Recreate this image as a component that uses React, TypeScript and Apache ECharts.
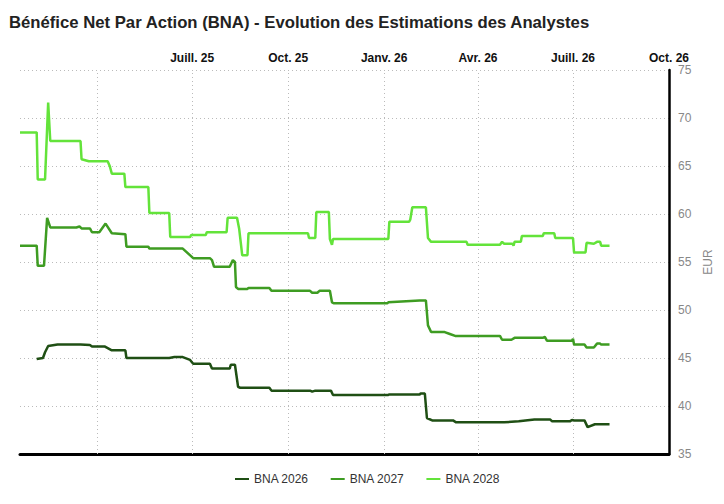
import React, { useEffect, useRef } from "react";
import * as echarts from "echarts";

const title = "Bénéfice Net Par Action (BNA) - Evolution des Estimations des Analystes";
const seriesNames = ["BNA 2026", "BNA 2027", "BNA 2028"];
const seriesColors = ["#1f4f14", "#3e9c22", "#63e33a"];

const xMin = "2025-01-17";
const xMax = "2026-10-01";
const gridDates = ["2025-04-01", "2025-07-01", "2025-10-01", "2026-01-01", "2026-04-01", "2026-07-01"];
const labelDates = ["2025-07-01", "2025-10-01", "2026-01-01", "2026-04-01", "2026-07-01", "2026-10-01"];
const monthNames = ["Janv.", "Févr.", "Mars", "Avr.", "Mai", "Juin", "Juill.", "Août", "Sept.", "Oct.", "Nov.", "Déc."];

const yMin = 35;
const yMax = 75;
const yStep = 5;

const bna2026: [string, number][] = [
  ["2025-02-02", 44.9], ["2025-02-08", 45.0], ["2025-02-10", 45.6], ["2025-02-13", 46.25],
  ["2025-02-22", 46.4], ["2025-03-16", 46.4], ["2025-03-25", 46.35], ["2025-03-27", 46.2],
  ["2025-04-08", 46.2], ["2025-04-15", 45.8], ["2025-04-28", 45.8], ["2025-04-29", 45.0],
  ["2025-06-09", 45.0], ["2025-06-14", 45.1], ["2025-06-22", 45.1], ["2025-06-29", 44.8],
  ["2025-07-02", 44.4], ["2025-07-18", 44.4], ["2025-07-20", 43.9], ["2025-08-06", 43.9],
  ["2025-08-07", 44.3], ["2025-08-11", 44.3], ["2025-08-14", 42.0], ["2025-08-16", 41.9],
  ["2025-09-13", 41.9], ["2025-09-15", 41.6], ["2025-10-22", 41.6], ["2025-10-24", 41.5],
  ["2025-10-27", 41.6], ["2025-11-11", 41.6], ["2025-11-13", 41.15], ["2026-01-05", 41.15],
  ["2026-01-06", 41.2], ["2026-02-04", 41.2], ["2026-02-05", 41.3], ["2026-02-09", 41.3],
  ["2026-02-11", 38.75], ["2026-02-16", 38.5], ["2026-03-08", 38.5], ["2026-03-11", 38.3],
  ["2026-04-26", 38.3], ["2026-05-10", 38.4], ["2026-05-25", 38.6], ["2026-06-09", 38.6],
  ["2026-06-11", 38.4], ["2026-06-28", 38.4], ["2026-06-30", 38.55], ["2026-07-02", 38.5],
  ["2026-07-12", 38.5], ["2026-07-15", 37.8], ["2026-07-22", 38.1], ["2026-08-05", 38.1],
];

const bna2027: [string, number][] = [
  ["2025-01-17", 56.7], ["2025-02-02", 56.7], ["2025-02-03", 54.6], ["2025-02-09", 54.6],
  ["2025-02-12", 59.6], ["2025-02-15", 58.6], ["2025-03-12", 58.6], ["2025-03-15", 58.7],
  ["2025-03-17", 58.5], ["2025-03-25", 58.5], ["2025-03-27", 58.1], ["2025-04-03", 58.1],
  ["2025-04-09", 59.0], ["2025-04-15", 58.0], ["2025-04-28", 57.9], ["2025-04-29", 56.6],
  ["2025-05-20", 56.6], ["2025-05-21", 56.4], ["2025-06-22", 56.4], ["2025-07-02", 55.4],
  ["2025-07-18", 55.4], ["2025-07-20", 55.2], ["2025-07-22", 54.5], ["2025-08-06", 54.5],
  ["2025-08-09", 55.2], ["2025-08-11", 55.0], ["2025-08-12", 52.4], ["2025-08-14", 52.2],
  ["2025-08-23", 52.2], ["2025-08-24", 52.3], ["2025-09-13", 52.3], ["2025-09-15", 52.0],
  ["2025-10-22", 52.0], ["2025-10-24", 51.8], ["2025-10-29", 51.8], ["2025-10-31", 52.0],
  ["2025-11-10", 52.0], ["2025-11-12", 50.8], ["2025-11-14", 50.7], ["2026-01-04", 50.7],
  ["2026-01-05", 50.8], ["2026-02-04", 51.0], ["2026-02-10", 51.0], ["2026-02-12", 48.4],
  ["2026-02-15", 47.7], ["2026-02-28", 47.7], ["2026-03-05", 47.5], ["2026-03-10", 47.3],
  ["2026-04-22", 47.3], ["2026-04-24", 46.9], ["2026-05-03", 46.9], ["2026-05-06", 47.1],
  ["2026-06-02", 47.1], ["2026-06-04", 47.2], ["2026-06-06", 46.8], ["2026-06-30", 46.8],
  ["2026-07-01", 47.0], ["2026-07-02", 46.4], ["2026-07-12", 46.4], ["2026-07-14", 46.1],
  ["2026-07-21", 46.1], ["2026-07-24", 46.5], ["2026-07-27", 46.5], ["2026-07-28", 46.4],
  ["2026-08-05", 46.4],
];

const bna2028: [string, number][] = [
  ["2025-01-17", 68.5], ["2025-02-02", 68.5], ["2025-02-03", 63.6], ["2025-02-10", 63.6],
  ["2025-02-13", 71.6], ["2025-02-15", 67.6], ["2025-03-16", 67.6], ["2025-03-17", 65.7],
  ["2025-03-24", 65.5], ["2025-04-11", 65.5], ["2025-04-13", 65.0], ["2025-04-15", 64.2],
  ["2025-04-27", 64.2], ["2025-04-28", 62.8], ["2025-05-20", 62.8], ["2025-05-21", 60.1],
  ["2025-06-09", 60.1], ["2025-06-10", 57.6], ["2025-06-29", 57.6], ["2025-06-30", 57.8],
  ["2025-07-14", 57.8], ["2025-07-15", 58.1], ["2025-08-03", 58.1], ["2025-08-04", 59.6],
  ["2025-08-13", 59.6], ["2025-08-15", 58.5], ["2025-08-18", 55.7], ["2025-08-23", 55.7],
  ["2025-08-24", 58.0], ["2025-10-20", 58.0], ["2025-10-21", 57.5], ["2025-10-27", 57.5],
  ["2025-10-28", 60.2], ["2025-11-09", 60.2], ["2025-11-10", 57.4], ["2025-11-12", 56.8],
  ["2025-11-13", 57.4], ["2026-01-05", 57.4], ["2026-01-06", 59.2], ["2026-01-25", 59.2],
  ["2026-01-26", 59.4], ["2026-01-28", 60.7], ["2026-02-10", 60.7], ["2026-02-12", 57.5],
  ["2026-02-15", 57.1], ["2026-03-21", 57.1], ["2026-03-22", 56.8], ["2026-04-22", 56.8],
  ["2026-04-24", 57.1], ["2026-04-26", 56.9], ["2026-05-04", 56.9], ["2026-05-05", 56.7],
  ["2026-05-06", 57.1], ["2026-05-12", 57.1], ["2026-05-13", 57.7], ["2026-06-02", 57.7],
  ["2026-06-03", 58.0], ["2026-06-13", 58.0], ["2026-06-14", 57.5], ["2026-07-01", 57.5],
  ["2026-07-02", 56.0], ["2026-07-13", 56.0], ["2026-07-14", 57.0], ["2026-07-21", 56.9],
  ["2026-07-24", 57.1], ["2026-07-27", 57.1], ["2026-07-28", 56.7], ["2026-08-05", 56.7],
];

const seriesData = [bna2026, bna2027, bna2028];

const FONT = "'Liberation Sans', Arial, Helvetica, sans-serif";

export default function App() {
  const ref = useRef<HTMLDivElement>(null);

  useEffect(() => {
    document.body.style.margin = "0";
    if (!ref.current) return;
    const chart = echarts.init(ref.current, null, { renderer: "svg" });
    const ts = (d: string) => new Date(d + "T00:00:00Z").getTime();

    chart.setOption({
      animation: false,
      backgroundColor: "#ffffff",
      textStyle: { fontFamily: FONT },
      title: {
        text: title,
        left: 4,
        top: 9,
        textStyle: { fontFamily: FONT, fontSize: 16.7, fontWeight: "bold", color: "#222222" },
      },
      legend: {
        bottom: 14,
        left: 230,
        icon: "rect",
        itemWidth: 14,
        itemHeight: 2,
        itemGap: 22,
        textStyle: { fontFamily: FONT, fontSize: 12, color: "#333333" },
        data: seriesNames,
      },
      grid: { left: 20, right: 55, top: 70, bottom: 50 },
      xAxis: [
        {
          type: "value",
          position: "top",
          min: ts(xMin),
          max: ts(xMax),
          axisLine: { show: false },
          axisTick: { show: false },
          splitLine: { show: false },
          axisLabel: {
            customValues: labelDates.map(ts),
            margin: 7,
            lineHeight: 11,
            fontFamily: FONT,
            fontSize: 12,
            fontWeight: "bold",
            color: "#111111",
            formatter: (v: number) => {
              const d = new Date(v);
              return monthNames[d.getUTCMonth()] + " " + String(d.getUTCFullYear()).slice(2);
            },
          },
        },
        {
          type: "value",
          position: "bottom",
          min: ts(xMin),
          max: ts(xMax),
          axisLine: { show: true, onZero: false, lineStyle: { color: "#000000", width: 3 } },
          axisTick: { show: false },
          axisLabel: { show: false },
          splitLine: { show: false },
        },
      ],
      yAxis: {
        type: "value",
        position: "right",
        min: yMin,
        max: yMax,
        interval: yStep,
        name: "EUR",
        nameLocation: "middle",
        nameRotate: 90,
        nameGap: 32,
        nameTextStyle: { fontFamily: FONT, fontSize: 12, color: "#888888" },
        axisLine: { show: true, lineStyle: { color: "#000000", width: 2.5 } },
        axisTick: { show: false },
        axisLabel: { margin: 9, lineHeight: 11, fontFamily: FONT, fontSize: 12, color: "#888888" },
        splitLine: { show: true, lineStyle: { color: "#bbbbbb", type: [1, 3], width: 1 } },
      },
      series: seriesNames.map((name, i) => ({
        name,
        type: "line",
        xAxisIndex: 0,
        data: seriesData[i].map(([d, v]) => [ts(d), v]),
        showSymbol: false,
        symbol: "none",
        color: seriesColors[i],
        lineStyle: { color: seriesColors[i], width: 2.5 },
        z: 3 + i,
        ...(i === 0
          ? {
              markLine: {
                silent: true,
                symbol: "none",
                label: { show: false },
                lineStyle: { color: "#bbbbbb", type: [1, 3], width: 1 },
                data: gridDates.map((d) => ({ xAxis: ts(d) })),
                z: 1,
              },
            }
          : {}),
      })),
    });

    return () => chart.dispose();
  }, []);

  return <div ref={ref} style={{ width: 724, height: 504 }} />;
}
